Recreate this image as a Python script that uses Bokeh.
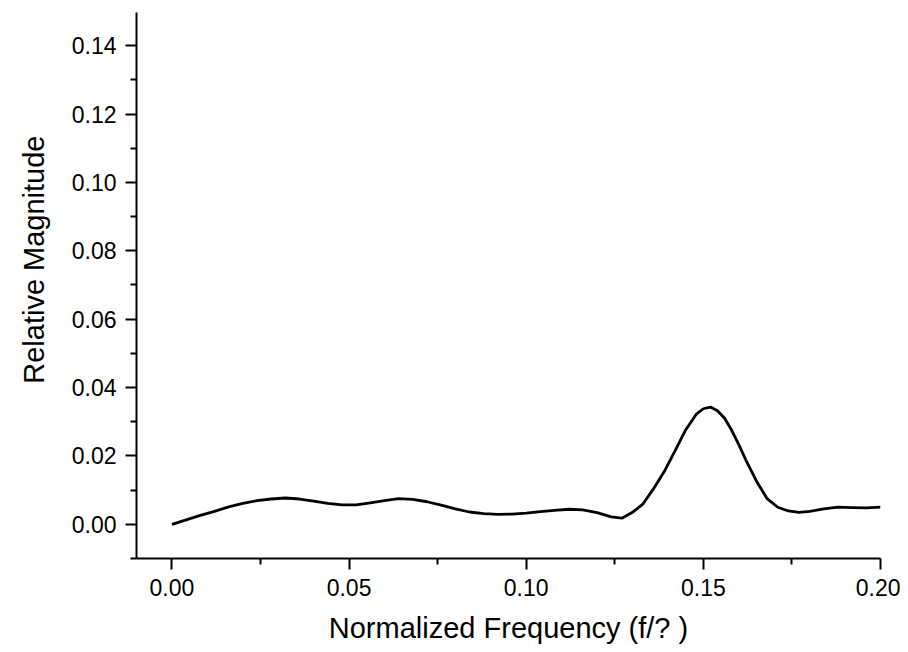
from bokeh.plotting import figure
from bokeh.models import FixedTicker, Range1d, Title
from bokeh.embed import file_html
from bokeh.resources import INLINE

# Data
freq = [0.000, 0.004, 0.008, 0.012, 0.016, 0.020, 0.024, 0.028, 0.032, 0.036,
        0.040, 0.044, 0.048, 0.052, 0.056, 0.060, 0.064, 0.068, 0.072, 0.076,
        0.080, 0.084, 0.088, 0.092, 0.096, 0.100, 0.104, 0.108, 0.112, 0.116,
        0.120, 0.124, 0.127, 0.130, 0.133, 0.136, 0.139, 0.142, 0.145, 0.148,
        0.150, 0.152, 0.154, 0.156, 0.158, 0.160, 0.162, 0.165, 0.168, 0.171,
        0.174, 0.177, 0.180, 0.184, 0.188, 0.192, 0.196, 0.200]
magnitude = [0.0000, 0.0013, 0.0026, 0.0038, 0.0051, 0.0061, 0.0069, 0.0074, 0.0077, 0.0074,
             0.0068, 0.0061, 0.0057, 0.0057, 0.0063, 0.0069, 0.0075, 0.0073, 0.0066, 0.0056,
             0.0045, 0.0036, 0.0031, 0.0029, 0.0030, 0.0033, 0.0037, 0.0041, 0.0044, 0.0042,
             0.0034, 0.0022, 0.0018, 0.0035, 0.0060, 0.0105, 0.0155, 0.0215, 0.0276, 0.0322,
             0.0338, 0.0343, 0.0332, 0.0310, 0.0275, 0.0233, 0.0188, 0.0126, 0.0075, 0.0050,
             0.0039, 0.0035, 0.0038, 0.0045, 0.0050, 0.0049, 0.0048, 0.0050]

x_ticks = [0.00, 0.05, 0.10, 0.15, 0.20]
x_tick_labels = ["0.00", "0.05", "0.10", "0.15", "0.20"]
x_minor = [0.025, 0.075, 0.125, 0.175]
y_ticks = [0.00, 0.02, 0.04, 0.06, 0.08, 0.10, 0.12, 0.14]
y_tick_labels = ["0.00", "0.02", "0.04", "0.06", "0.08", "0.10", "0.12", "0.14"]
y_minor = [-0.01, 0.01, 0.03, 0.05, 0.07, 0.09, 0.11, 0.13]

x_title = "Normalized Frequency (f/? )"
y_title = "Relative Magnitude"

FONT = "Liberation Sans"

p = figure(width=900, height=648, output_backend="svg", toolbar_location=None,
           x_range=Range1d(-0.01, 0.20), y_range=Range1d(-0.01, 0.1497),
           min_border_left=136, min_border_right=20, min_border_top=12, min_border_bottom=90)
p.outline_line_color = None
p.xgrid.visible = False
p.ygrid.visible = False
p.background_fill_color = "white"
p.border_fill_color = "white"

p.line(freq, magnitude, line_color="black", line_width=2.8, line_join="round")

p.xaxis.ticker = FixedTicker(ticks=x_ticks, minor_ticks=x_minor)
p.yaxis.ticker = FixedTicker(ticks=y_ticks, minor_ticks=y_minor)
p.xaxis.major_label_overrides = dict(zip(x_ticks, x_tick_labels))
p.yaxis.major_label_overrides = dict(zip(y_ticks, y_tick_labels))

for ax in (p.xaxis[0], p.yaxis[0]):
    ax.axis_line_width = 2
    ax.axis_line_color = "black"
    ax.major_tick_line_width = 2
    ax.minor_tick_line_width = 2
    ax.major_tick_line_color = "black"
    ax.minor_tick_line_color = "black"
    ax.major_tick_in = 0
    ax.minor_tick_in = 0
    ax.major_tick_out = 11
    ax.minor_tick_out = 6
    ax.major_label_text_font = FONT
    ax.major_label_text_font_size = "23px"
    ax.major_label_text_color = "black"
    ax.axis_label_text_font = FONT
    ax.axis_label_text_font_size = "29px"
    ax.axis_label_text_font_style = "normal"
    ax.axis_label_text_color = "black"

p.xaxis.axis_label = x_title
p.xaxis.major_label_standoff = 9
p.yaxis.major_label_standoff = 9
p.xaxis.axis_label_standoff = 13

# y-axis title: placed above the frame centre, as in the reference
p.add_layout(Title(text=y_title, align="right", vertical_align="top", offset=123,
                   standoff=34, text_font=FONT, text_font_size="29px",
                   text_font_style="normal", text_color="black"), "left")

open("out.html", "w").write(file_html(p, INLINE))
